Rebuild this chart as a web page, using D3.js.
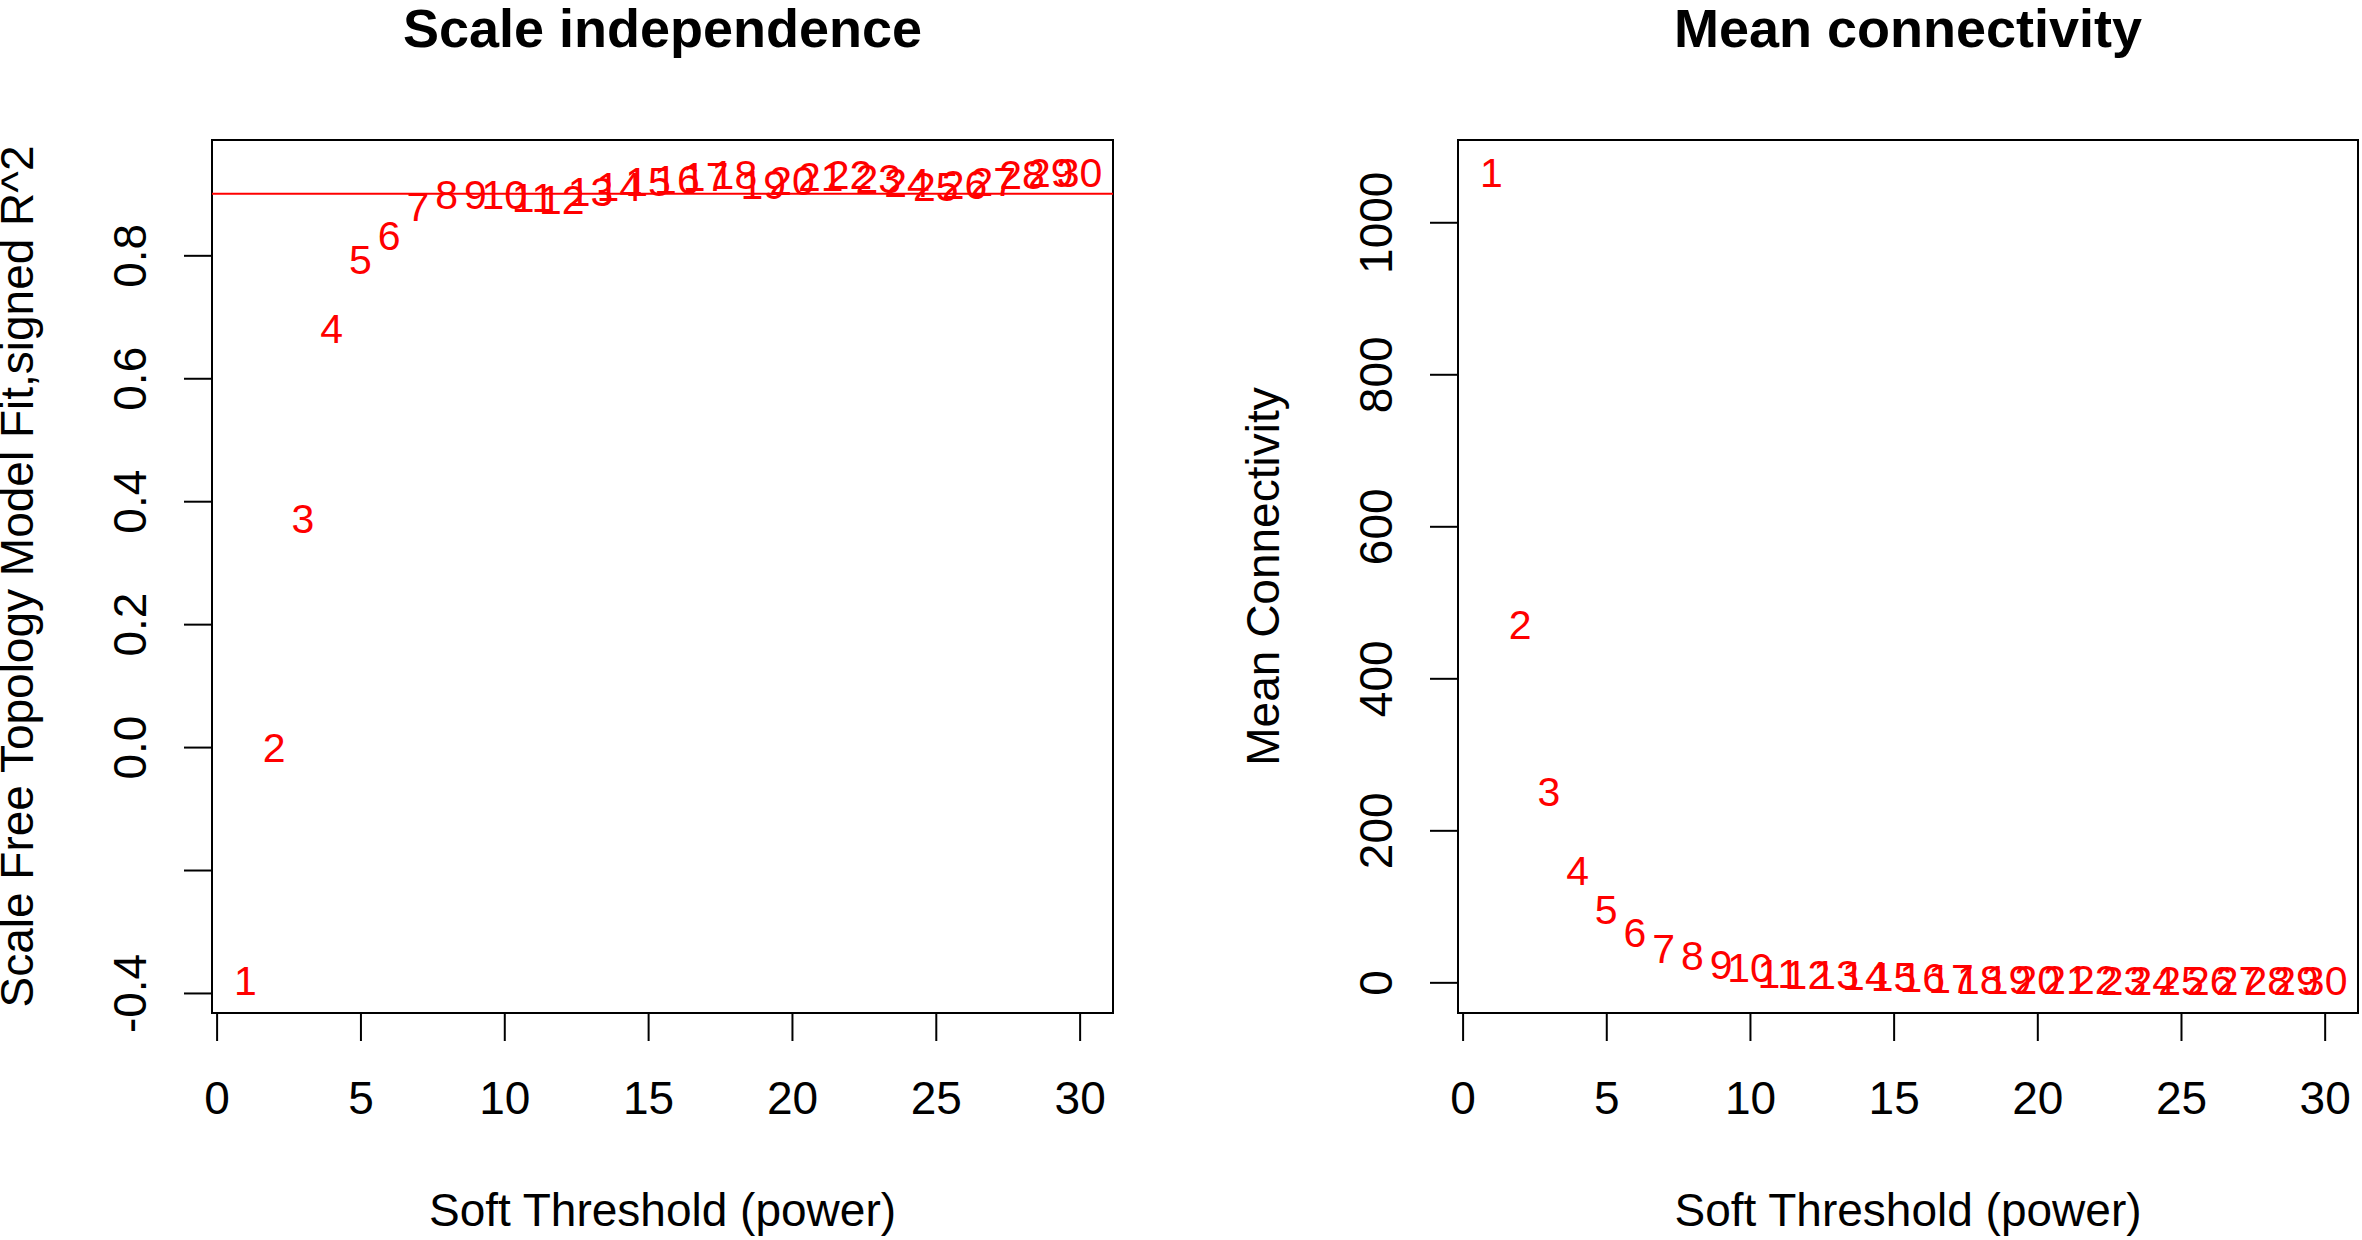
<!DOCTYPE html>
<html>
<head>
<meta charset="utf-8">
<script src="https://cdn.jsdelivr.net/npm/d3@7"></script>
<style>
  body { margin: 0; background: #fff; }
  svg { display: block; font-family: "Liberation Sans", Arial, sans-serif; }
</style>
</head>
<body>
<svg id="chart"></svg>
<script>
// soft-threshold powers tested
const powers = [1, 2, 3, 4, 5, 6, 7, 8, 9, 10, 11, 12, 13, 14, 15, 16, 17, 18, 19, 20, 21, 22, 23, 24, 25, 26, 27, 28, 29, 30]
// scale free topology fit, signed R^2
const signedR2 = [-0.38, 0.0, 0.373, 0.682, 0.794, 0.832, 0.88, 0.90, 0.90, 0.899, 0.895, 0.892, 0.905, 0.912, 0.920, 0.923, 0.929, 0.932, 0.915, 0.922, 0.928, 0.932, 0.925, 0.919, 0.913, 0.916, 0.920, 0.932, 0.935, 0.935]
// mean connectivity
const meanK = [1065.7, 471, 251, 147, 96.5, 65.7, 45, 35, 24, 19.7, 12.2, 10.9, 10.5, 8.7, 8.2, 6.6, 5.6, 4.3, 4.2, 3.9, 3.8, 3.6, 3.0, 2.8, 2.7, 2.6, 2.5, 2.4, 2.3, 2.2]
const cutoff = 0.9

const xTicks = [0, 5, 10, 15, 20, 25, 30]
const leftYTicks = [-0.4, -0.2, 0.0, 0.2, 0.4, 0.6, 0.8]
const leftYTickLabels = ["-0.4", "", "0.0", "0.2", "0.4", "0.6", "0.8"]
const rightYTicks = [0, 200, 400, 600, 800, 1000]
const rightYTickLabels = ["0", "200", "400", "600", "800", "1000"]

const titles = ["Scale independence", "Mean connectivity"]
const xLabel = "Soft Threshold (power)"
const yLabels = ["Scale Free Topology Model Fit,signed R^2", "Mean Connectivity"]

const width = 2362
const height = 1240
const plotTop = 140, plotBottom = 1013
const panels = [
  { x0: 212, x1: 1113, values: signedR2, yTicks: leftYTicks, yTickLabels: leftYTickLabels, title: titles[0], ylab: yLabels[0], hline: cutoff },
  { x0: 1458, x1: 2358, values: meanK, yTicks: rightYTicks, yTickLabels: rightYTickLabels, title: titles[1], ylab: yLabels[1], hline: null }
]

// R style axis range: data range padded 4% each side
let padRange = arr => {
  let [a, b] = d3.extent(arr)
  let d = (b - a) * 0.04
  return [a - d, b + d]
}

let svg = d3.select("#chart")
  .attr("width", width)
  .attr("height", height)

svg.append("rect")
  .attr("width", width)
  .attr("height", height)
  .attr("fill", "#fff")

panels.forEach(p => {
  let x = d3.scaleLinear().domain(padRange(powers)).range([p.x0, p.x1])
  let y = d3.scaleLinear().domain(padRange(p.values)).range([plotBottom, plotTop])
  let g = svg.append("g")

  // x axis
  let xAxis = g.append("g")
    .attr("transform", `translate(0,${plotBottom})`)
    .call(d3.axisBottom(x).tickValues(xTicks).tickSize(28).tickFormat(d3.format("d")))
  xAxis.select(".domain").remove()
  xAxis.selectAll(".tick line").attr("stroke", "#000").attr("stroke-width", 2)
  xAxis.selectAll(".tick text")
    .attr("y", 101)
    .attr("dy", null)
    .attr("fill", "#000")
    .style("font-size", "46px")
    .style("font-family", "'Liberation Sans', Arial, sans-serif")

  // y axis, labels parallel to the axis as in base R
  let yAxis = g.append("g")
    .attr("transform", `translate(${p.x0},0)`)
    .call(d3.axisLeft(y).tickValues(p.yTicks).tickSize(28).tickFormat((d, i) => p.yTickLabels[i]))
  yAxis.select(".domain").remove()
  yAxis.selectAll(".tick line").attr("stroke", "#000").attr("stroke-width", 2)
  yAxis.selectAll(".tick text")
    .attr("x", null)
    .attr("dy", null)
    .attr("transform", "translate(-66,0) rotate(-90)")
    .attr("text-anchor", "middle")
    .attr("fill", "#000")
    .style("font-size", "46px")
    .style("font-family", "'Liberation Sans', Arial, sans-serif")

  // plot box
  g.append("rect")
    .attr("x", p.x0)
    .attr("y", plotTop)
    .attr("width", p.x1 - p.x0)
    .attr("height", plotBottom - plotTop)
    .attr("fill", "none")
    .attr("stroke", "#000")
    .attr("stroke-width", 2)

  if (p.hline !== null) {
    g.append("line")
      .attr("x1", p.x0)
      .attr("x2", p.x1)
      .attr("y1", y(p.hline))
      .attr("y2", y(p.hline))
      .attr("stroke", "#ff0000")
      .attr("stroke-width", 2)
  }

  // power labels used as the points
  g.selectAll(".pt")
    .data(powers)
    .enter()
    .append("text")
    .attr("class", "pt")
    .attr("x", d => x(d))
    .attr("y", (d, i) => y(p.values[i]))
    .attr("dy", "0.36em")
    .attr("text-anchor", "middle")
    .attr("fill", "#ff0000")
    .style("font-size", "41px")
    .text(d => d)

  // titles
  g.append("text")
    .attr("x", (p.x0 + p.x1) / 2)
    .attr("y", 47)
    .attr("text-anchor", "middle")
    .style("font-size", "54px")
    .style("font-weight", "bold")
    .text(p.title)

  g.append("text")
    .attr("x", (p.x0 + p.x1) / 2)
    .attr("y", 1226)
    .attr("text-anchor", "middle")
    .style("font-size", "46px")
    .text(xLabel)

  g.append("text")
    .attr("transform", `translate(${p.x0 - 179},${(plotTop + plotBottom) / 2}) rotate(-90)`)
    .attr("text-anchor", "middle")
    .style("font-size", "46px")
    .text(p.ylab)
})
</script>
</body>
</html>
